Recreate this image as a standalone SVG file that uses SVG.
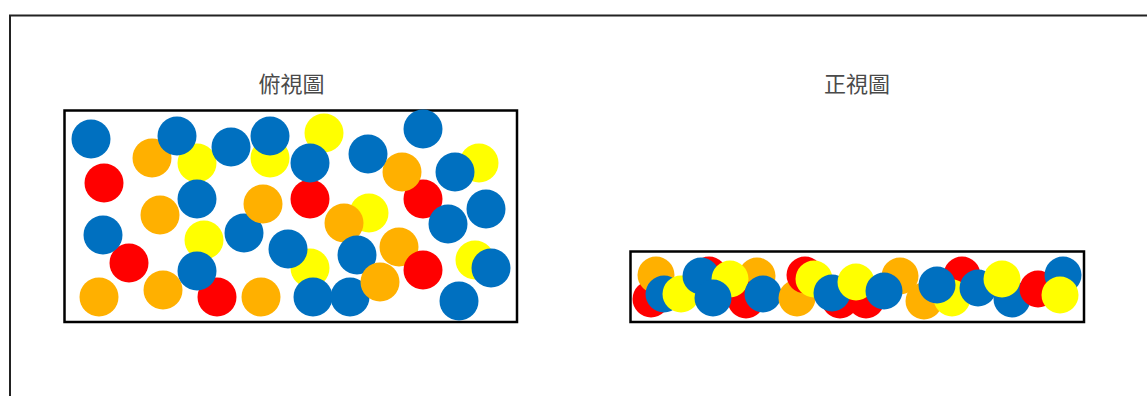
<svg xmlns="http://www.w3.org/2000/svg" width="1147" height="396" viewBox="0 0 1147 396">
<style>
.b{fill:#0070C0}.r{fill:#FF0000}.y{fill:#FFFF00}.o{fill:#FFB000}
.box{fill:none;stroke:#000;stroke-width:2.5}
.t{font-family:"Noto Sans CJK TC","Noto Sans CJK SC",sans-serif;font-size:22px;fill:#4a4a4a;text-anchor:middle}
</style>
<rect width="1147" height="396" fill="#fff"/>
<path d="M10 396 V15.5 H1147" fill="none" stroke="#222" stroke-width="2"/>
<g id="top-view">
<text class="t" x="291.5" y="92">俯視圖</text>
<rect class="box" x="64.5" y="110.5" width="452.5" height="211.5"/>
<g>
<circle class="y" cx="270" cy="158" r="19.5"/>
<circle class="y" cx="197" cy="163" r="19.5"/>
<circle class="y" cx="204" cy="240" r="19.5"/>
<circle class="y" cx="324" cy="133" r="19.5"/>
<circle class="y" cx="479" cy="163" r="19.5"/>
<circle class="y" cx="369" cy="213" r="19.5"/>
<circle class="y" cx="310" cy="268" r="19.5"/>
<circle class="y" cx="475" cy="260" r="19.5"/>
<circle class="r" cx="104" cy="183" r="19.5"/>
<circle class="r" cx="129" cy="263" r="19.5"/>
<circle class="r" cx="217" cy="297" r="19.5"/>
<circle class="r" cx="310" cy="199" r="19.5"/>
<circle class="r" cx="423" cy="199" r="19.5"/>
<circle class="o" cx="152" cy="158" r="19.5"/>
<circle class="o" cx="160" cy="215" r="19.5"/>
<circle class="o" cx="99" cy="297" r="19.5"/>
<circle class="o" cx="163" cy="290" r="19.5"/>
<circle class="o" cx="261" cy="297" r="19.5"/>
<circle class="o" cx="402" cy="172" r="19.5"/>
<circle class="o" cx="344" cy="223" r="19.5"/>
<circle class="o" cx="399" cy="247" r="19.5"/>
<circle class="r" cx="423" cy="270" r="19.5"/>
<circle class="b" cx="91" cy="139" r="19.5"/>
<circle class="b" cx="177" cy="136" r="19.5"/>
<circle class="b" cx="231" cy="147" r="19.5"/>
<circle class="b" cx="270" cy="136" r="19.5"/>
<circle class="b" cx="197" cy="199" r="19.5"/>
<circle class="b" cx="103" cy="235" r="19.5"/>
<circle class="b" cx="244" cy="233" r="19.5"/>
<circle class="b" cx="288" cy="249" r="19.5"/>
<circle class="b" cx="197" cy="271" r="19.5"/>
<circle class="b" cx="310" cy="163" r="19.5"/>
<circle class="b" cx="368" cy="154" r="19.5"/>
<circle class="b" cx="423" cy="129" r="19.5"/>
<circle class="b" cx="455" cy="172" r="19.5"/>
<circle class="b" cx="448" cy="224" r="19.5"/>
<circle class="b" cx="486" cy="209" r="19.5"/>
<circle class="b" cx="357" cy="255" r="19.5"/>
<circle class="b" cx="313" cy="297" r="19.5"/>
<circle class="b" cx="350" cy="297" r="19.5"/>
<circle class="b" cx="491" cy="268" r="19.5"/>
<circle class="b" cx="459" cy="301" r="19.5"/>
<circle class="o" cx="263" cy="204" r="19.5"/>
<circle class="o" cx="380" cy="282" r="19.5"/>
</g>
</g>
<g id="front-view">
<text class="t" x="857" y="92">正視圖</text>
<rect class="box" x="630.5" y="251.5" width="453.5" height="70.5"/>
<g>
<circle class="r" cx="651" cy="299" r="18.5"/>
<circle class="o" cx="656" cy="275" r="18.5"/>
<circle class="b" cx="664" cy="294" r="18.5"/>
<circle class="y" cx="681" cy="294" r="18.5"/>
<circle class="r" cx="709" cy="275" r="18.5"/>
<circle class="b" cx="701" cy="276" r="18.5"/>
<circle class="o" cx="757" cy="276" r="18.5"/>
<circle class="r" cx="746" cy="300" r="18.5"/>
<circle class="y" cx="730" cy="279" r="18.5"/>
<circle class="b" cx="713" cy="298" r="18.5"/>
<circle class="b" cx="763" cy="294" r="18.5"/>
<circle class="o" cx="797" cy="298" r="18.5"/>
<circle class="r" cx="805" cy="275" r="18.5"/>
<circle class="y" cx="814" cy="279" r="18.5"/>
<circle class="r" cx="840" cy="300" r="18.5"/>
<circle class="r" cx="866" cy="300" r="18.5"/>
<circle class="b" cx="832" cy="293" r="18.5"/>
<circle class="y" cx="856" cy="282" r="18.5"/>
<circle class="o" cx="924" cy="301" r="18.5"/>
<circle class="o" cx="900" cy="276" r="18.5"/>
<circle class="b" cx="884" cy="291" r="18.5"/>
<circle class="r" cx="962" cy="275" r="18.5"/>
<circle class="y" cx="952" cy="298" r="18.5"/>
<circle class="b" cx="937" cy="285" r="18.5"/>
<circle class="b" cx="978" cy="288" r="18.5"/>
<circle class="b" cx="1012" cy="299" r="18.5"/>
<circle class="y" cx="1002" cy="279" r="18.5"/>
<circle class="r" cx="1038" cy="289" r="18.5"/>
<circle class="b" cx="1063" cy="275" r="18.5"/>
<circle class="y" cx="1060" cy="295" r="18.5"/>
</g>
</g>
</svg>
